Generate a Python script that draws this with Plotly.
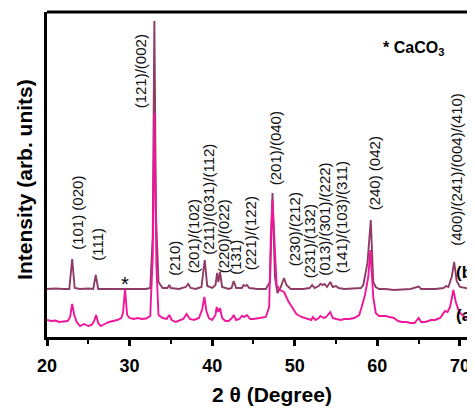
import plotly.graph_objects as go

# ---- data (2-theta in degrees, intensity in arb. units) ----
two_theta_b = [20.0, 21.0, 22.0, 22.7, 23.05, 23.35, 24.0, 25.0, 25.6, 25.9, 26.2, 27.0, 28.0, 29.0, 30.0,
               31.0, 32.0, 32.5, 32.8, 33.0, 33.2, 33.5, 34.0, 34.6, 34.8, 35.0, 36.0, 36.8, 37.1, 37.4,
               38.0, 38.7, 39.1, 39.4, 40.0, 40.4, 40.6, 40.75, 40.95, 41.2, 42.0, 42.35, 42.6, 42.9,
               43.6, 43.8, 44.0, 44.2, 44.5, 45.5, 46.5, 47.0, 47.3, 47.6, 47.9, 48.3, 48.7, 49.0, 49.5,
               51.0, 51.8, 52.1, 52.4, 52.9, 53.1, 53.4, 53.6, 53.9, 54.3, 54.6, 55.0, 55.3, 56.0, 57.0,
               58.0, 58.3, 58.8, 59.2, 59.5, 59.8, 60.2, 61.0, 62.0, 63.0, 64.0, 65.0, 65.3, 66.0, 67.0,
               68.0, 68.3, 68.6, 69.0, 69.3, 69.6, 70.0, 71.0, 71.9]
intensity_b = [48, 48.5, 48, 48, 78, 49, 48, 48.5, 48, 62, 48, 48, 48.5, 48, 48,
               48.5, 48, 49, 100, 316, 120, 55, 49, 49, 52, 49, 48, 50, 53, 49,
               48, 50, 77, 51, 49, 52, 64, 55, 65, 50, 48, 49, 56, 49,
               49, 52, 51, 52, 49, 48, 48, 55, 144, 60, 44, 50, 59, 52, 48,
               48, 49, 52, 49, 51, 53, 52, 53, 50, 55, 50, 51, 49, 48, 48.5,
               49, 52, 74, 117, 55, 50, 48, 48, 47, 47.5, 48, 50.5, 48, 48, 48,
               49, 51, 50, 60, 75, 56, 50, 48.5, 48]

two_theta_a = [20.0, 20.5, 21.0, 21.5, 22.0, 22.5, 22.8, 23.05, 23.3, 23.6, 24.0, 24.5, 25.0, 25.4, 25.7,
               25.95, 26.2, 26.5, 27.0, 27.5, 28.0, 28.5, 29.0, 29.2, 29.45, 29.7, 30.0, 30.5, 31.0,
               31.5, 32.0, 32.5, 32.8, 33.0, 33.25, 33.5, 34.0, 34.5, 34.8, 35.1, 35.6, 36.0, 36.5,
               36.9, 37.3, 37.8, 38.4, 38.8, 39.05, 39.3, 39.6, 40.0, 40.4, 40.55, 40.75, 40.95, 41.2,
               41.6, 42.0, 42.4, 42.6, 42.9, 43.3, 43.6, 43.9, 44.2, 44.6, 45.0, 45.8, 46.5, 46.9,
               47.1, 47.3, 47.55, 47.8, 48.2, 48.7, 49.2, 49.7, 50.2, 50.8, 51.5, 52.0, 52.2, 52.5,
               52.9, 53.1, 53.5, 53.8, 54.3, 54.6, 55.0, 55.6, 56.0, 56.6, 57.2, 57.8, 58.1, 58.5,
               58.9, 59.15, 59.5, 59.8, 60.2, 61.0, 61.5, 62.0, 62.5, 63.0, 63.5, 64.0, 64.5, 65.0,
               65.3, 65.8, 66.5, 67.0, 67.6, 68.2, 68.5, 68.8, 69.2, 69.5, 69.9, 70.5, 71.0, 71.9]
intensity_a = [17, 16, 16.5, 15, 15.5, 16, 20, 33, 22, 15, 11, 13, 11, 12, 16,
               22, 14, 11, 13, 15, 16, 17, 19, 24, 48, 22, 19, 18, 19,
               18, 18.5, 21, 80, 224, 70, 22, 19, 18, 22, 17, 15, 16, 18,
               23, 18, 17, 19, 28, 40, 26, 19, 17, 22, 30, 25, 29, 19,
               16, 16, 19, 22, 17, 18, 21, 20, 22, 18, 18, 19, 20, 30,
               100, 137, 100, 52, 47, 45, 36, 29, 23, 20, 18, 17, 20, 17,
               19, 21, 19, 20, 25, 19, 18, 17, 18, 18, 19, 22, 30, 42,
               60, 87, 40, 24, 21, 21, 20, 19, 16, 15, 15, 14, 14, 19,
               15, 15, 17, 17, 19, 26, 25, 30, 47, 35, 25, 20, 19, 18]

peak_labels = ["(101) (020)", "(111)", "(121)/(002)", "(210)", "(201)/(102)",
               "(211)/(031)/(112)", "(220)/(022)", "(131)", "(221)/(122)", "(201)/(040)",
               "(230)/(212)", "(231)/(132)", "(013)/(301)/(222)", "(141)/(103)/(311)",
               "(240) (042)", "(400)/(241)/(004)/(410)"]
x_ticks = [20, 30, 40, 50, 60, 70]

# label anchor positions (2theta, bottom of text)
label_pos = [(23.61, 85), (26.09, 74), (31.30, 227), (35.41, 59), (37.71, 62),
             (39.53, 80), (41.35, 62), (42.80, 60), (44.61, 65), (47.64, 150),
             (49.94, 69), (51.76, 57), (53.57, 59), (55.63, 62),
             (59.63, 125), (69.55, 89)]

FONT = "Arial, Liberation Sans, sans-serif"
COL_A = "#F0169A"
COL_B = "#8E3B66"

fig = go.Figure()
fig.add_trace(go.Scatter(x=two_theta_b, y=intensity_b, mode="lines",
                         line=dict(color=COL_B, width=1.9), showlegend=False))
fig.add_trace(go.Scatter(x=two_theta_a, y=intensity_a, mode="lines",
                         line=dict(color=COL_A, width=1.9), showlegend=False))

ann = []
for txt, (px, py) in zip(peak_labels, label_pos):
    ann.append(dict(x=px, y=py, xref="x", yref="y", text=txt, textangle=-90,
                    showarrow=False, xanchor="center", yanchor="bottom",
                    font=dict(family=FONT, size=15, color="#111111")))
ann.append(dict(x=29.49, y=53, xref="x", yref="y", text="*", showarrow=False,
                xanchor="center", yanchor="middle", font=dict(family=FONT, size=20, color="black")))
ann.append(dict(x=64.4, y=289, xref="x", yref="y", text="<b>* CaCO<sub>3</sub></b>", showarrow=False,
                xanchor="center", yanchor="middle", font=dict(family=FONT, size=16, color="black")))
ann.append(dict(x=69.3, y=65, xref="x", yref="y", text="<b>(b)</b>", showarrow=False,
                xanchor="left", yanchor="middle", font=dict(family=FONT, size=17, color="black")))
ann.append(dict(x=69.3, y=22, xref="x", yref="y", text="<b>(a)</b>", showarrow=False,
                xanchor="left", yanchor="middle", font=dict(family=FONT, size=17, color="black")))
ann.append(dict(x=-0.054, y=0.486, xref="paper", yref="paper", text="<b>Intensity (arb. units)</b>",
                textangle=-90, showarrow=False, xanchor="center", yanchor="middle",
                font=dict(family=FONT, size=21, color="black")))
ann.append(dict(x=47.3, y=-0.178, xref="x", yref="paper", text="<b>2 \u03b8 (Degree)</b>",
                showarrow=False, xanchor="center", yanchor="middle",
                font=dict(family=FONT, size=21, color="black")))

fig.update_layout(
    width=467, height=403,
    margin=dict(l=39, r=0, t=4, b=74),
    plot_bgcolor="white", paper_bgcolor="white",
    annotations=ann,
    shapes=[dict(type="line", xref="paper", yref="paper", x0=0, x1=1, y0=1, y1=1,
                 line=dict(color="black", width=3))],
    xaxis=dict(range=[20, 71.82], showgrid=False, zeroline=False,
               showline=True, linewidth=3, linecolor="black",
               ticks="outside", ticklen=6, tickwidth=2.5, tickcolor="black",
               tickvals=x_ticks, ticktext=[f"<b>{v}</b>" for v in x_ticks],
               ticklabelstandoff=4,
               tickfont=dict(family=FONT, size=18, color="black"),
               minor=dict(dtick=5, tick0=20, ticks="outside", ticklen=4, tickwidth=2, tickcolor="black")),
    yaxis=dict(range=[0, 325], showgrid=False, zeroline=False, showticklabels=False,
               showline=True, linewidth=3, linecolor="black", ticks=""),
)

fig.write_html("out.html")
